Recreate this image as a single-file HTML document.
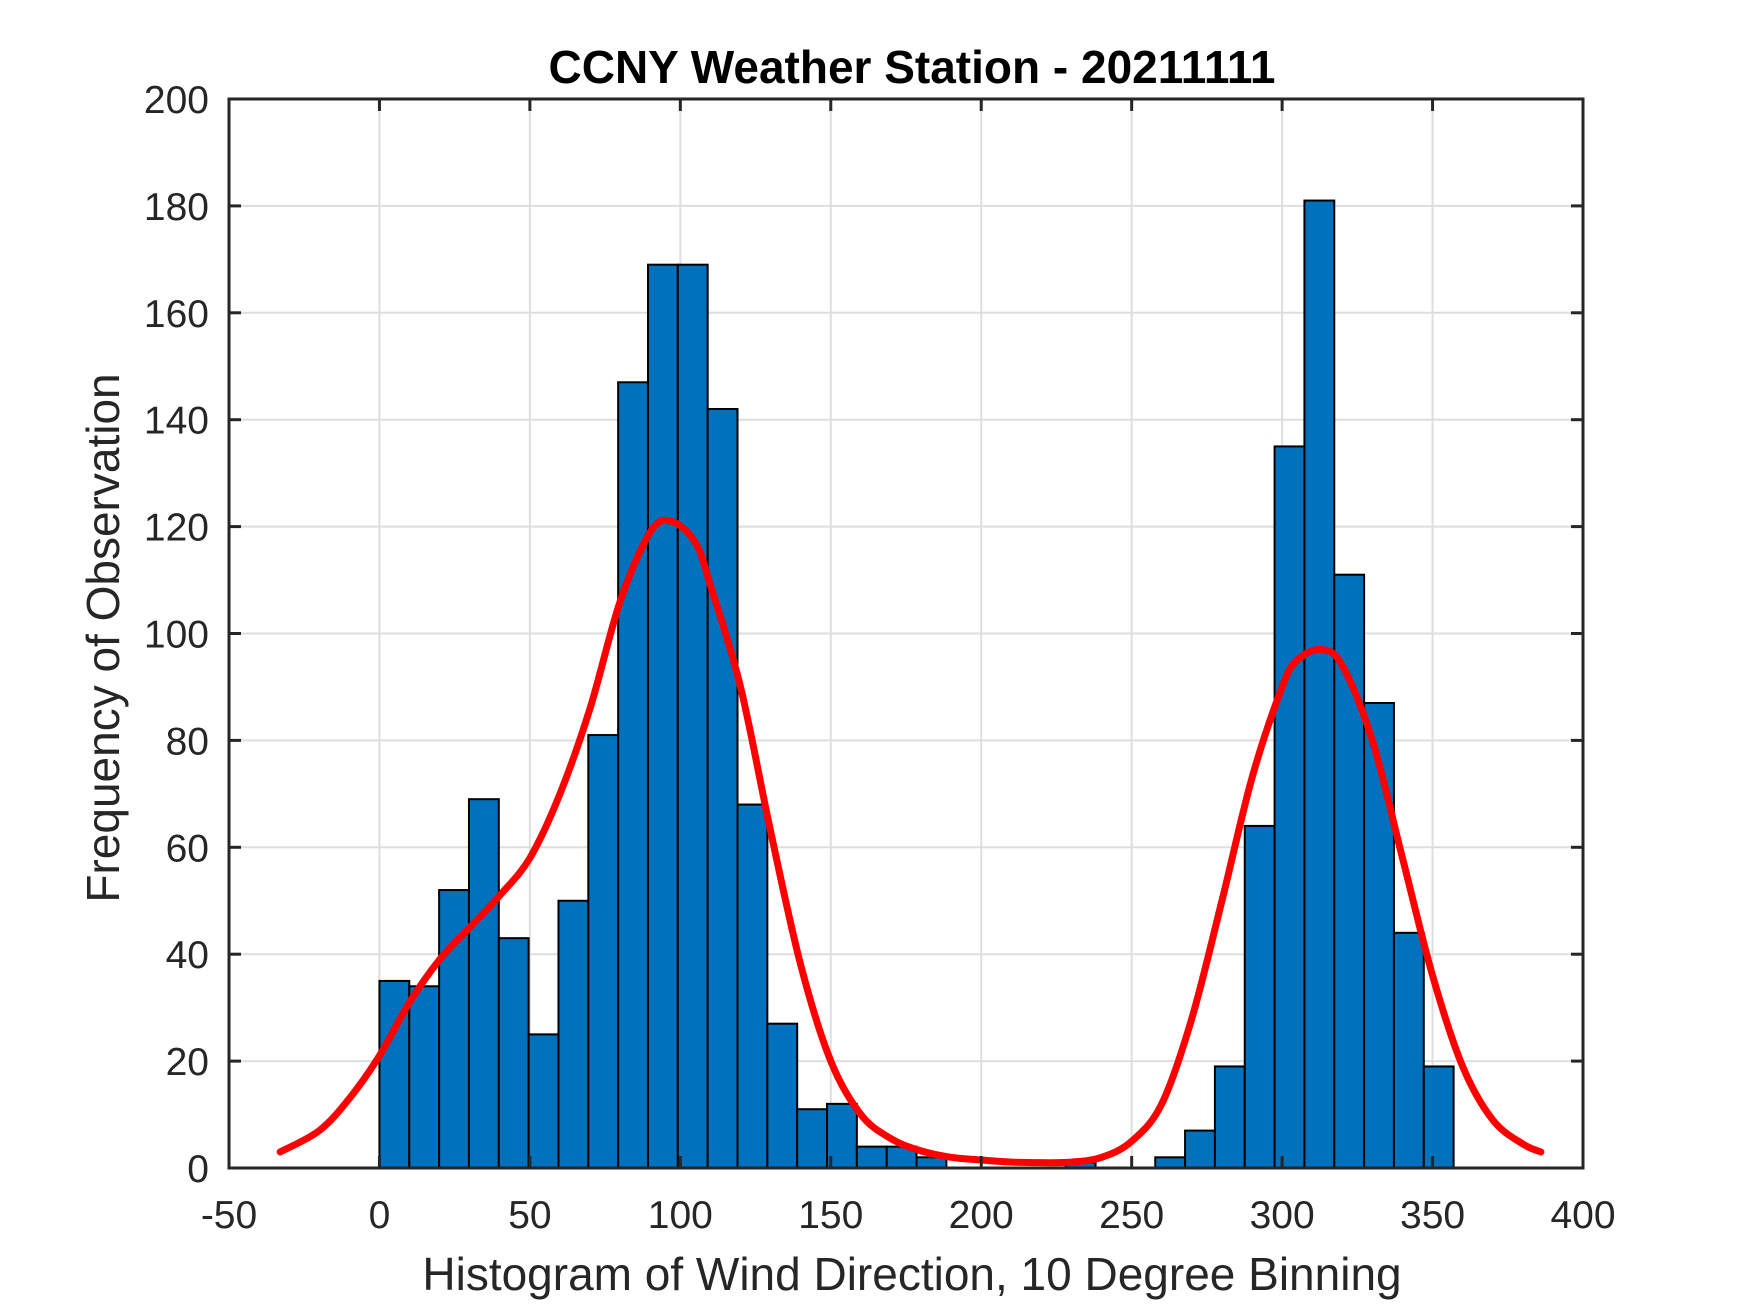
<!DOCTYPE html>
<html><head><meta charset="utf-8"><style>
html,body{margin:0;padding:0;background:#fff;}
svg{display:block;font-family:"Liberation Sans",Arial,sans-serif;}
</style></head><body>
<svg id="chart" width="1750" height="1313" viewBox="0 0 1750 1313" xmlns="http://www.w3.org/2000/svg">
<rect width="1750" height="1313" fill="#fff"/>
<g id="grid"></g>
<g id="bars"></g>
<path id="curve" fill="none" stroke="#ff0000" stroke-width="7" stroke-linejoin="round" stroke-linecap="round"/>
<g id="axes"></g>
<text x="912" y="83" text-anchor="middle" font-size="46" font-weight="bold" fill="#000">CCNY Weather Station - 20211111</text>
<text x="912" y="1290" text-anchor="middle" font-size="46" fill="#262626">Histogram of Wind Direction, 10 Degree Binning</text>
<text transform="translate(119,638) rotate(-90)" text-anchor="middle" font-size="46" fill="#262626">Frequency of Observation</text>
</svg>
<script>
const binMin = 0;
const binMax = 357;
const binCounts = [35,34,52,69,43,25,50,81,147,169,169,142,68,27,11,12,4,4,2,0,0,0,0,1,0,0,2,7,19,64,135,181,111,87,44,19];
const curveX = [-33,-20,-10,0,10,20,30,40,50,60,70,80,90,97,105,110,120,130,140,150,160,170,180,190,200,210,220,230,240,250,260,270,280,290,300,305,313,320,330,340,350,360,370,380,386];
const curveY = [3,7,13,21,31,39,45,51,58,70,86,106,119,121,117,109,90,63,38,20,10,5.5,3.2,2,1.5,1.1,1,1.1,2,5,12,28,50,73,90,95,97,94,80,58,36,19,9,4.5,3];
const xTicks = [-50,0,50,100,150,200,250,300,350,400];
const yTicks = [0,20,40,60,80,100,120,140,160,180,200];

const L=229,R=1583,T=99,B=1168;
const X = v => L + (v - (-50)) / 450 * (R - L);
const Y = v => B - v / 200 * (B - T);
const NS='http://www.w3.org/2000/svg';
function mk(tag, parent){const e=document.createElementNS(NS,tag);parent.appendChild(e);return e;}

const grid=document.getElementById('grid');
xTicks.forEach(t=>{ if(t===-50||t===400) return;
  const l=mk('line',grid);
  
  
  l.setAttribute('x1',X(t));l.setAttribute('x2',X(t));l.setAttribute('y1',T);l.setAttribute('y2',B);
  l.setAttribute('stroke','#dedede');l.setAttribute('stroke-width','2');});
yTicks.forEach(t=>{ if(t===0||t===200) return;
  const l=mk('line',grid);
  
  
  l.setAttribute('x1',L);l.setAttribute('x2',R);l.setAttribute('y1',Y(t));l.setAttribute('y2',Y(t));
  l.setAttribute('stroke','#dedede');l.setAttribute('stroke-width','2');});

const bars=document.getElementById('bars');
const bw=(binMax-binMin)/binCounts.length;
binCounts.forEach((c,i)=>{ if(c<=0) return;
  const s=binMin+i*bw;
  const r=mk('rect',bars);
  
  
  r.setAttribute('x',X(s));r.setAttribute('width',X(s+bw)-X(s));
  r.setAttribute('y',Y(c));r.setAttribute('height',Y(0)-Y(c));
  r.setAttribute('fill','#0072BD');r.setAttribute('stroke','#000');r.setAttribute('stroke-width','2');});

const pts=curveX.map((x,i)=>[X(x),Y(curveY[i])]);
let d='M'+pts[0][0]+','+pts[0][1];
for(let i=0;i<pts.length-1;i++){
  const p0=pts[i-1]||pts[i],p1=pts[i],p2=pts[i+1],p3=pts[i+2]||p2;
  const c1=[p1[0]+(p2[0]-p0[0])/6,p1[1]+(p2[1]-p0[1])/6];
  const c2=[p2[0]-(p3[0]-p1[0])/6,p2[1]-(p3[1]-p1[1])/6];
  d+=' C'+c1[0]+','+c1[1]+' '+c2[0]+','+c2[1]+' '+p2[0]+','+p2[1];
}
document.getElementById('curve').setAttribute('d',d);

const axes=document.getElementById('axes');
const box=mk('rect',axes);


box.setAttribute('x',L);box.setAttribute('y',T);box.setAttribute('width',R-L);box.setAttribute('height',B-T);
box.setAttribute('fill','none');box.setAttribute('stroke','#262626');box.setAttribute('stroke-width','3');
xTicks.forEach(t=>{
  [[B,B-12],[T,T+12]].forEach(([a,b])=>{const l=mk('line',axes);
    
    
    l.setAttribute('x1',X(t));l.setAttribute('x2',X(t));l.setAttribute('y1',a);l.setAttribute('y2',b);
    l.setAttribute('stroke','#262626');l.setAttribute('stroke-width','3');});
  const tx=mk('text',axes);
  
  
  tx.setAttribute('x',X(t));tx.setAttribute('y',1228);tx.setAttribute('text-anchor','middle');
  tx.setAttribute('font-size','39');tx.setAttribute('fill','#262626');tx.textContent=t;});
yTicks.forEach(t=>{
  [[L,L+12],[R,R-12]].forEach(([a,b])=>{const l=mk('line',axes);
    
    
    l.setAttribute('y1',Y(t));l.setAttribute('y2',Y(t));l.setAttribute('x1',a);l.setAttribute('x2',b);
    l.setAttribute('stroke','#262626');l.setAttribute('stroke-width','3');});
  const tx=mk('text',axes);
  
  
  tx.setAttribute('x',209);tx.setAttribute('y',Y(t)+14);tx.setAttribute('text-anchor','end');
  tx.setAttribute('font-size','39');tx.setAttribute('fill','#262626');tx.textContent=t;});
</script>
</body></html>
